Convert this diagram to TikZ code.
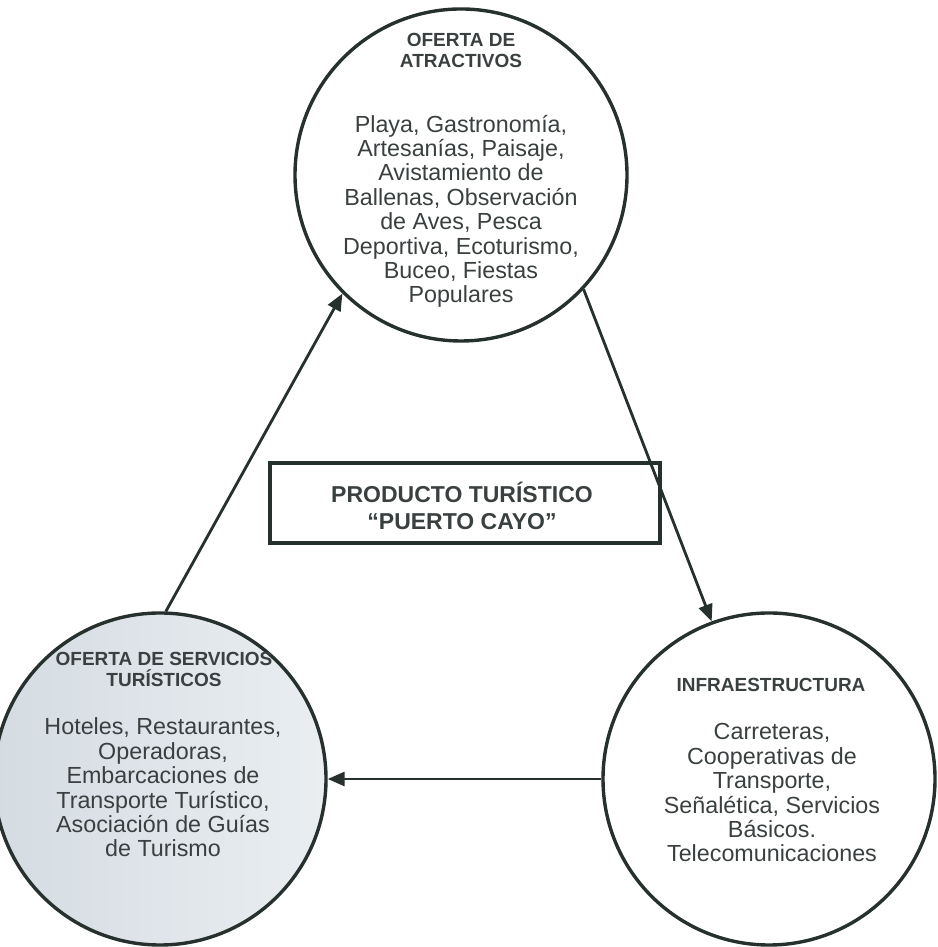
\documentclass[tikz,border=0pt]{standalone}
\usepackage{fontspec}
\setmainfont{Liberation Sans}
\usetikzlibrary{arrows.meta}
\definecolor{lncol}{RGB}{38,48,45}
\definecolor{txtcol}{RGB}{58,64,64}
\definecolor{svcfill}{RGB}{212,220,226}
\definecolor{svcfillb}{RGB}{234,238,241}
\tikzset{
  bubble/.style={circle,draw=lncol,line width=3.4pt,inner sep=0pt,minimum size=332pt},
  head/.style={align=center,text=txtcol,anchor=base,font=\fontsize{19}{21.7}\selectfont\bfseries},
  body/.style={align=center,text=txtcol,anchor=base,font=\fontsize{23.3}{24.4}\selectfont},
  flow/.style={draw=lncol,line width=2.8pt,-{Triangle[length=17pt,width=14pt]}},
  prodbox/.style={draw=lncol,line width=3.5pt,minimum width=390pt,minimum height=80pt,inner sep=0pt}
}
\begin{document}
\begin{tikzpicture}[x=1pt,y=1pt]
\useasboundingbox (0,0) rectangle (937,947);
% the three offers
\node [bubble] (atr) at (461,772) {};
\node [bubble,left color=svcfill,right color=svcfillb] (svc) at (160,168) {};
\node [bubble] (inf) at (769,168) {};

% base of a node = baseline of its last line
\node [head] (atrhead) at (461,879) {OFERTA DE\\ATRACTIVOS};
\node [body] (atrbody) at (461,644) {Playa, Gastronomía,\\Artesanías, Paisaje,\\Avistamiento de\\Ballenas, Observación\\de Aves, Pesca\\Deportiva, Ecoturismo,\\Buceo, Fiestas\\Populares};

\node [head] (svchead) at (164,260) {OFERTA DE SERVICIOS\\TURÍSTICOS};
\node [body] (svcbody) at (163,90) {Hoteles, Restaurantes,\\Operadoras,\\Embarcaciones de\\Transporte Turístico,\\Asociación de Guías\\de Turismo};

\node [head] (infhead) at (771,255) {INFRAESTRUCTURA};
\node [body] (infbody) at (772,85) {Carreteras,\\Cooperativas de\\Transporte,\\Señalética, Servicios\\Básicos.\\Telecomunicaciones};

% product in the middle
\node [prodbox] (prod) at (465,444) {};
\node [head,font=\fontsize{23}{27}\selectfont\bfseries] (prodtxt) at (462,417) {PRODUCTO TURÍSTICO\\“PUERTO CAYO”};

\draw [flow] (svc.88) -- (atr.225);
\draw [flow] (atr.-43) -- (inf.110);
\draw [flow] (inf.west) -- (svc.east);
\end{tikzpicture}
\end{document}
